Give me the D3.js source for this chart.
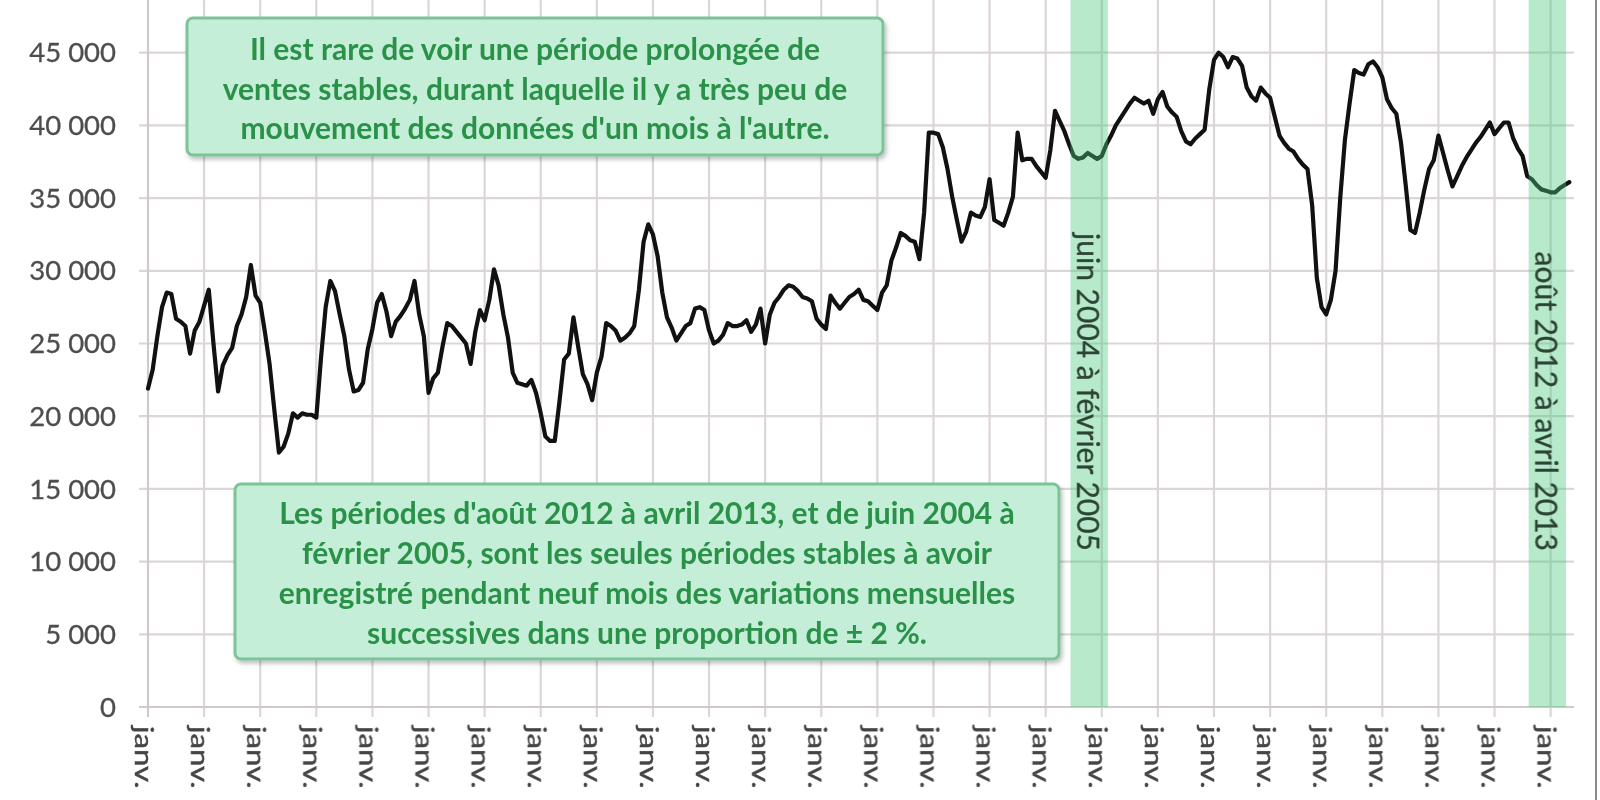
<!DOCTYPE html>
<html><head><meta charset="utf-8">
<script src="https://cdn.jsdelivr.net/npm/d3@7"></script>
<style>body{margin:0;background:#fff;} svg{display:block;}</style>
</head><body>
<svg id="chart" width="1600" height="800"></svg>
<script>
// ---------- DATA ----------
const firstYear = 1988; // series starts in January 1988, monthly
const sales = [
21900,23200,25500,27500,28500,28400,26700,26500,26200,24300,25900,26500,
27600,28700,25000,21700,23500,24200,24700,26200,27000,28200,30400,28300,
27800,25800,23600,20500,17500,17900,18800,20200,19900,20200,20100,20100,
19900,24000,27500,29300,28600,27000,25500,23200,21700,21800,22300,24600,
26000,27800,28400,27200,25500,26500,26900,27400,28000,29300,27000,25500,
21600,22600,23000,24800,26400,26200,25800,25400,25000,23600,25800,27300,
26600,28000,30100,29000,27000,25400,23000,22300,22200,22100,22500,21600,
20200,18600,18300,18300,21000,23900,24300,26800,24800,22900,22200,21100,
23000,24100,26400,26200,25900,25200,25400,25700,26200,28700,32000,33200,
32500,31000,28500,26800,26100,25200,25700,26200,26400,27400,27500,27300,
25900,25000,25200,25600,26400,26200,26200,26300,26600,25800,26300,27400,
25000,27000,27800,28200,28700,29000,28900,28600,28200,28100,27900,26700,
26300,26000,28300,27800,27400,27800,28200,28400,28700,28000,27900,27600,
27300,28500,29000,30700,31600,32600,32400,32100,32000,30800,34000,39500,
39500,39400,38500,37000,35100,33500,32000,32700,34000,33800,33700,34400,
36300,33500,33300,33100,34000,35100,39500,37600,37700,37700,37200,36800,
36400,38300,41000,40300,39600,38700,37900,37700,37800,38100,37900,37700,
37900,38700,39300,40000,40500,41000,41500,41900,41700,41500,41700,40800,
41800,42300,41300,40900,40600,39600,38900,38700,39100,39400,39700,42500,
44500,45000,44700,44000,44700,44600,44100,42600,42000,41700,42600,42200,
41900,40600,39300,38800,38400,38200,37700,37300,37000,34500,29500,27500,
27000,28000,30000,35000,39000,41500,43800,43600,43500,44200,44400,44000,
43300,41800,41200,40800,38800,35900,32800,32600,34000,35600,37000,37600,
39300,38100,36900,35800,36500,37200,37800,38300,38800,39200,39700,40200,
39400,39800,40200,40200,39100,38400,37900,36500,36300,35900,35600,35500,
35400,35400,35700,35900,36100
];
const yTicks = [0,5000,10000,15000,20000,25000,30000,35000,40000,45000,50000];
const years = d3.range(1988, 2014);
const xLabels = years.map(() => "janv.");
const bandStarts = [197, 295];      // months since Jan 1988 (juin 2004, août 2012)
const bandEnds   = [205, 303];      // (février 2005, avril 2013)
const bandLabels = ["juin 2004 à février 2005", "août 2012 à avril 2013"];
const note1 = ["Il est rare de voir une période prolongée de",
               "ventes stables, durant laquelle il y a très peu de",
               "mouvement des données d'un mois à l'autre."];
const note2 = ["Les périodes d'août 2012 à avril 2013, et de juin 2004 à",
               "février 2005, sont les seules périodes stables à avoir",
               "enregistré pendant neuf mois des variations mensuelles",
               "successives dans une proportion de ± 2 %."];

// ---------- CHART ----------
const svg = d3.select("#chart");
const fr = d3.formatLocale({decimal: ",", thousands: " ", grouping: [3], currency: ["", " $"]});
const fmt = fr.format(",.0f");

const x = d3.scaleLinear().domain([0, 305]).range([148, 1574]);
const y = d3.scaleLinear().domain([0, 50000]).range([707, -20]);
const x0 = 148, x1 = 1574, yBottom = y(0);

const defs = svg.append("defs");
const f = defs.append("filter").attr("id","sh").attr("x","-5%").attr("y","-10%").attr("width","115%").attr("height","130%");
f.append("feDropShadow").attr("dx",2).attr("dy",3).attr("stdDeviation",2).attr("flood-color","#000").attr("flood-opacity",0.25);

const blur = defs.append("filter").attr("id","soft");
blur.append("feGaussianBlur").attr("stdDeviation",0.6);

// horizontal gridlines
svg.append("g").selectAll("line").data(yTicks).join("line")
  .attr("x1", x0 - 9).attr("x2", x1)
  .attr("y1", d => y(d)).attr("y2", d => y(d))
  .attr("stroke", "#dcd6d8").attr("stroke-width", 2.2);

// vertical gridlines at each January
const janIdx = years.map((yr, k) => k * 12);
svg.append("g").selectAll("line").data(janIdx.slice(1)).join("line")
  .attr("x1", d => x(d)).attr("x2", d => x(d))
  .attr("y1", 0).attr("y2", yBottom + 10)
  .attr("stroke", "#dcd6d8").attr("stroke-width", 2.2);

// axes lines
svg.append("line").attr("x1", x0).attr("x2", x0).attr("y1", 0).attr("y2", yBottom + 10)
  .attr("stroke", "#d0cacc").attr("stroke-width", 2.2);
svg.append("line").attr("x1", x0 - 9).attr("x2", x1).attr("y1", yBottom).attr("y2", yBottom)
  .attr("stroke", "#d0cacc").attr("stroke-width", 2.2);

// y tick labels
svg.append("g").selectAll("text").data(yTicks.filter(d => y(d) > 10)).join("text")
  .attr("x", 116).attr("y", d => y(d)).attr("dy", "0.35em")
  .attr("text-anchor", "end")
  .attr("font-family", "Lato, 'Open Sans', sans-serif").attr("font-size", 27.5)
  .attr("fill", "#4e4e4e").attr("stroke", "#4e4e4e").attr("stroke-width", 0.3)
  .attr("filter","url(#soft)")
  .text(d => fmt(d));

// x tick labels (rotated)
svg.append("g").selectAll("text").data(janIdx).join("text")
  .attr("transform", (d) => `translate(${x(d) - 3},${yBottom + 19}) rotate(90) scale(1.25,1)`)
  .attr("dominant-baseline", "central")
  .attr("font-family", "Lato, 'Open Sans', sans-serif").attr("font-size", 25)
  .attr("fill", "#444").attr("stroke", "#444").attr("stroke-width", 0.4)
  .attr("filter","url(#soft)")
  .text((d, k) => xLabels[k]);

// series line
const line = d3.line().x((d, i) => x(i)).y(d => y(d)).curve(d3.curveLinear);
svg.append("path").datum(sales)
  .attr("d", line).attr("fill", "none")
  .attr("stroke", "#111").attr("stroke-width", 4.2)
  .attr("stroke-linejoin", "round").attr("stroke-linecap", "round");

// highlight bands (translucent, over the line)
const bandG = svg.append("g");
bandStarts.forEach((s, k) => {
  const bx0 = x(s + 0.3), bx1 = x(bandEnds[k] + 0.3);
  bandG.append("rect").attr("x", bx0).attr("y", 0).attr("width", bx1 - bx0).attr("height", yBottom)
    .attr("fill", "rgb(75,200,125)").attr("fill-opacity", 0.4);
  bandG.append("text")
    .attr("transform", `translate(${(bx0 + bx1) / 2},551) rotate(90)`)
    .attr("text-anchor", "end").attr("dominant-baseline", "central")
    .attr("font-family", "Lato, 'Open Sans', sans-serif").attr("font-size", 30)
    .attr("fill", "#2c4434").attr("stroke", "#2c4434").attr("stroke-width", 0.3)
    .attr("filter","url(#soft)")
    .text(bandLabels[k]);
});

// annotation boxes
function noteBox(lines, bx, by, bw, bh, firstBase, step) {
  const g = svg.append("g");
  g.append("rect").attr("x", bx).attr("y", by).attr("width", bw).attr("height", bh)
    .attr("rx", 6).attr("fill", "#c4eed7").attr("stroke", "#7cc497").attr("stroke-width", 3)
    .attr("filter", "url(#sh)");
  g.selectAll("text").data(lines).join("text")
    .attr("x", bx + bw / 2).attr("y", (d, i) => firstBase + i * step)
    .attr("text-anchor", "middle")
    .attr("font-family", "Lato, 'Open Sans', sans-serif").attr("font-weight", "bold")
    .attr("font-size", 30).attr("fill", "#2b9148").attr("filter","url(#soft)")
    .text(d => d);
}
noteBox(note1, 187, 18, 696, 137, 60, 39.5);
noteBox(note2, 235, 484, 824, 175, 524, 40);

// right frame line
svg.append("line").attr("x1", 1596).attr("x2", 1596).attr("y1", 0).attr("y2", 800)
  .attr("stroke", "#8a8a8a").attr("stroke-width", 2);
</script>
</body></html>
